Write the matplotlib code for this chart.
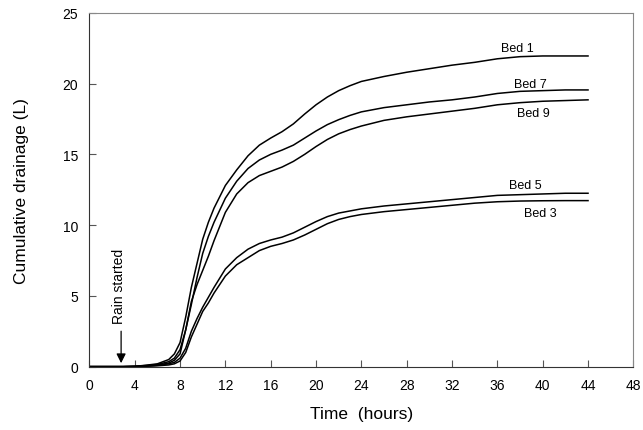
import matplotlib
matplotlib.use("Agg")
import matplotlib.pyplot as plt

plt.rcParams['font.family'] = ['Liberation Sans', 'DejaVu Sans']

# time grid (hours) shared by all beds
hours = [0, 3, 4, 5, 6, 7, 7.5, 8, 8.5, 9, 9.5, 10, 10.5, 11, 12, 13, 14, 15, 16,
         17, 18, 19, 20, 21, 22, 23, 24, 26, 28, 30, 32, 34, 36, 38, 40, 42, 44]

# cumulative drainage (L)
bed1 = [0, 0, 0.02, 0.1, 0.2, 0.5, 0.9, 1.7, 3.5, 5.6, 7.3, 9.0, 10.2, 11.2, 12.8, 13.9, 14.9, 15.65, 16.15,
        16.6, 17.15, 17.85, 18.5, 19.05, 19.5, 19.85, 20.15, 20.5, 20.8, 21.05, 21.3, 21.5, 21.75, 21.9, 21.95, 21.95, 21.95]
bed7 = [0, 0, 0.02, 0.08, 0.15, 0.35, 0.6, 1.2, 2.6, 4.4, 6.3, 8.0, 9.2, 10.2, 11.9, 13.1, 14.0, 14.6, 15.0,
        15.3, 15.65, 16.15, 16.65, 17.1, 17.45, 17.75, 18.0, 18.3, 18.5, 18.7, 18.85, 19.05, 19.3, 19.45, 19.5, 19.55, 19.55]
bed9 = [0, 0, 0.01, 0.05, 0.1, 0.25, 0.45, 0.9, 2.6, 4.6, 5.8, 6.8, 7.8, 8.9, 10.9, 12.2, 13.0, 13.5, 13.8,
        14.1, 14.5, 15.0, 15.55, 16.05, 16.45, 16.75, 17.0, 17.4, 17.65, 17.85, 18.05, 18.25, 18.5, 18.65, 18.75, 18.8, 18.85]
bed5 = [0, 0, 0.01, 0.05, 0.1, 0.2, 0.3, 0.6, 1.3, 2.5, 3.4, 4.2, 4.9, 5.6, 6.9, 7.7, 8.3, 8.7, 8.95,
        9.15, 9.45, 9.85, 10.25, 10.6, 10.85, 11.0, 11.15, 11.35, 11.5, 11.65, 11.8, 11.95, 12.1, 12.15, 12.2, 12.25, 12.25]
bed3 = [0, 0, 0.01, 0.03, 0.06, 0.12, 0.2, 0.4, 1.0, 2.1, 3.0, 3.9, 4.5, 5.2, 6.4, 7.2, 7.7, 8.2, 8.5,
        8.7, 8.95, 9.3, 9.7, 10.1, 10.4, 10.6, 10.75, 10.95, 11.1, 11.25, 11.4, 11.55, 11.65, 11.7, 11.72, 11.73, 11.73]

bed_labels = ["Bed 1", "Bed 7", "Bed 9", "Bed 5", "Bed 3"]
label_pos = [(37.8, 22.5), (38.9, 19.95), (39.2, 17.95), (38.5, 12.85), (39.8, 10.85)]

rain_time = 2.8

fig = plt.figure(figsize=(6.43, 4.31), dpi=100)
ax = fig.add_axes([0.139, 0.147, 0.846, 0.821])

for series in [bed1, bed7, bed9, bed5, bed3]:
    ax.plot(hours, series, color='black', lw=1.1)

for name, (x, y) in zip(bed_labels, label_pos):
    ax.text(x, y, name, fontsize=9, ha='center', va='center')

# rain started marker
ax.annotate("", xy=(rain_time, 0.05), xytext=(rain_time, 2.7),
            arrowprops=dict(arrowstyle='-|>', color='black', lw=0.9, mutation_scale=14))
ax.text(rain_time - 0.15, 3.05, "Rain started", rotation=90, fontsize=10, ha='center', va='bottom')

ax.set_xlim(0, 48)
ax.set_ylim(0, 25)
ax.set_xticks(range(0, 49, 4))
ax.set_yticks(range(0, 26, 5))
ax.tick_params(direction='in', length=5, colors='#555555', labelcolor='black', labelsize=10, pad=8)
ax.spines['top'].set_color('#888888')
ax.spines['right'].set_color('#888888')
ax.spines['left'].set_color('#333333')
ax.spines['bottom'].set_color('#333333')
ax.set_xlabel("Time  (hours)", fontsize=12.5, labelpad=10)
ax.set_ylabel("Cumulative drainage (L)", fontsize=12.5, labelpad=24)

fig.savefig("out.png", dpi=100)
